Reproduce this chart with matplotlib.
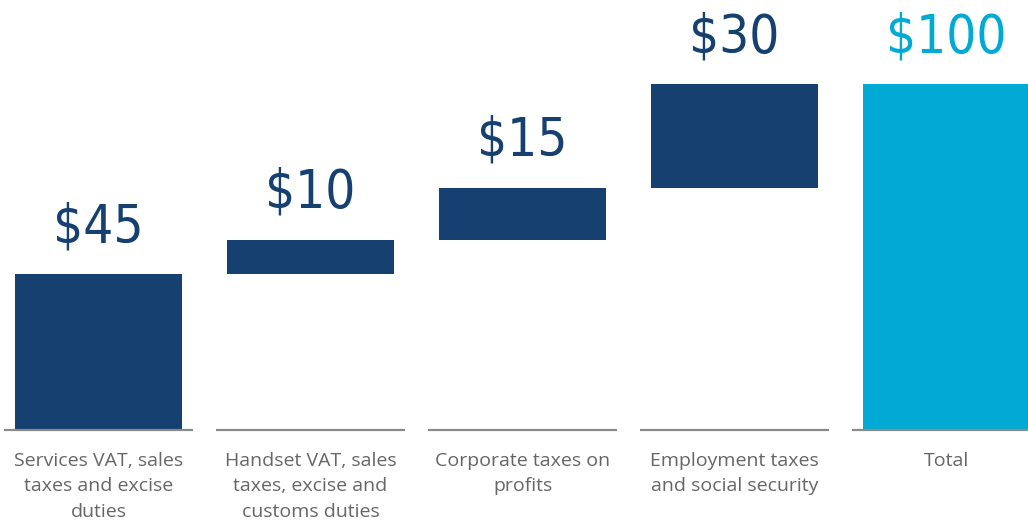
import numpy as np
import matplotlib.pyplot as plt

# waterfall data
categories = ["Services VAT, sales\ntaxes and excise\nduties",
              "Handset VAT, sales\ntaxes, excise and\ncustoms duties",
              "Corporate taxes on\nprofits",
              "Employment taxes\nand social security",
              "Total"]
values = [45, 10, 15, 30, 100]
labels = ["$45", "$10", "$15", "$30", "$100"]

navy = "#15406f"
cyan = "#00aad4"

# bottoms of the floating bars
bottoms = [0] + list(np.cumsum(values[:3])) + [0]
colors = [navy, navy, navy, navy, cyan]

fig = plt.figure(figsize=(10.28, 5.26), dpi=100)
ax = fig.add_axes([0, 0, 1, 1])
x = np.arange(len(values))

ax.bar(x, values, bottom=bottoms, width=0.788, color=colors, zorder=2)

# short grey baseline under each bar
ax.hlines(np.zeros(len(x)), x - 0.445, x + 0.445, color="#8a8a8a", linewidth=1.6, zorder=3)

for i in range(len(values)):
    top = bottoms[i] + values[i]
    ax.annotate(labels[i], (x[i], top), xytext=(0, 15), textcoords="offset points",
                ha="center", va="bottom", fontsize=38, color=colors[i],
                family="DejaVu Sans", fontstretch="condensed", fontweight="light")
    ax.text(x[i], -6.3, categories[i], ha="center", va="top", fontsize=14,
            color="#666666", family="Open Sans", linespacing=1.55)

ax.set_xlim(-0.4646, 4.384)
ax.set_ylim(-27.75, 124.28)
ax.axis("off")

fig.savefig("out.png", dpi=100)
